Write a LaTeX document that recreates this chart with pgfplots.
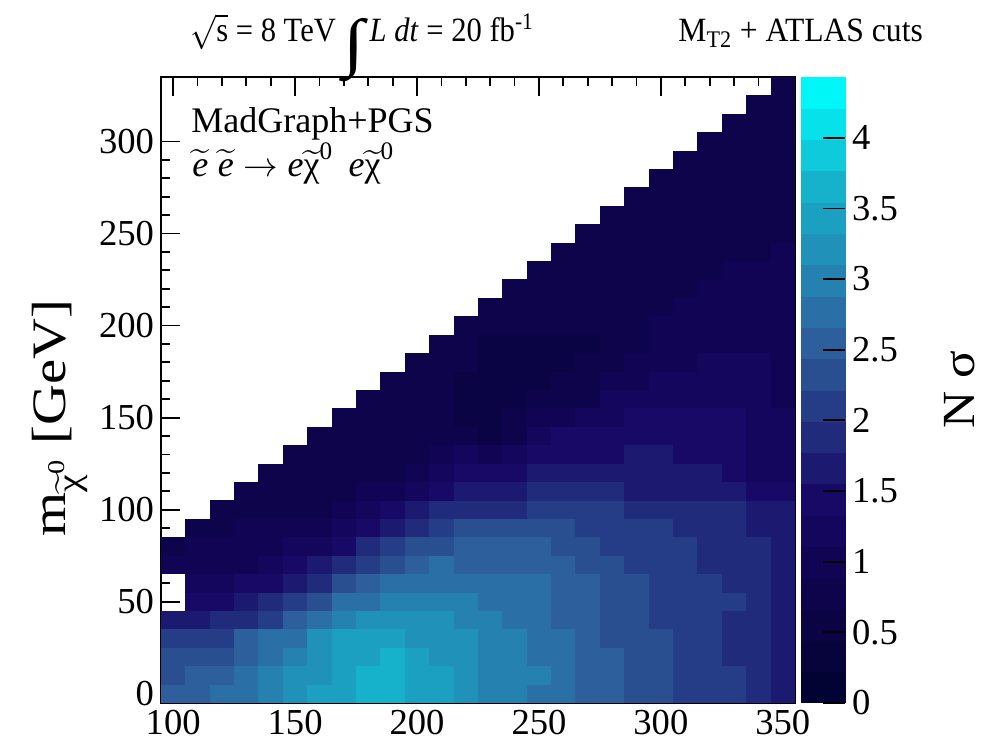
\documentclass[border=0pt]{standalone}
\usepackage{amsmath}
\usepackage{graphicx}
\usepackage{fontspec}
\setmainfont{Liberation Serif}
\usepackage{pgfplots}
\pgfplotsset{compat=1.18}
\pgfplotsset{colormap={deepsea}{rgb255=(3,3,51) rgb255=(7,3,59) rgb255=(10,4,68) rgb255=(13,4,76) rgb255=(17,4,84) rgb255=(20,5,93) rgb255=(24,9,102) rgb255=(28,25,112) rgb255=(32,43,123) rgb255=(37,61,134) rgb255=(41,79,145) rgb255=(45,95,156) rgb255=(42,112,166) rgb255=(37,129,175) rgb255=(32,145,185) rgb255=(27,160,194) rgb255=(22,178,204) rgb255=(14,202,219) rgb255=(7,226,234) rgb255=(0,247,247)}}
\pgfdeclareplotmark{cell}{\pgfpathrectangle{\pgfpoint{-6.125pt}{-4.625pt}}{\pgfpoint{12.25pt}{9.25pt}}\pgfusepathqfill}
\newcommand{\tchi}{\widetilde{\text{χ}}^{\text{0}}}
\begin{document}
\begin{tikzpicture}
\begin{axis}[
  at={(0,0)}, anchor=south west,
  scale only axis, width=317pt, height=313pt,
  xmin=95, xmax=355, ymin=-5, ymax=335,
  xtick={100,150,...,350}, ytick={0,50,...,300},
  minor x tick num=4, minor y tick num=4,
  tick pos=both, tick align=inside,
  major tick length=9.5pt, minor tick length=4.5pt,
  tick style={black, line width=0.9pt},
  axis line style={line width=1pt},
  axis on top,
  /pgf/number format/assume math mode=true,
  tick label style={font=\fontsize{18.3}{20}\selectfont},
  colormap name=deepsea,
  colormap access=piecewise constant,
  point meta min=0, point meta max=4.43,
  colorbar,
  colorbar style={
    at={(parent axis.south east)}, anchor=south west, xshift=-5.5pt,
    width=22pt,
    ytick={0,0.5,...,4},
    yticklabel pos=right, ytick pos=right, tick align=inside,
    major tick length=11pt,
    axis line style={draw=none},
    tick style={black, line width=0.9pt},
    /pgf/number format/assume math mode=true,
    tick label style={font=\fontsize{18.3}{20}\selectfont},
  },
]
\addplot[scatter, only marks, mark=cell, point meta=explicit,
  scatter/use mapped color={draw=none, fill=mapped color}] coordinates {
(100,0)[2.55] (100,10)[2.33] (100,20)[2.33] (100,30)[2.10] (100,40)[1.66] (100,70)[1.00] (100,80)[0.78]
(110,0)[2.55] (110,10)[2.55] (110,20)[2.33] (110,30)[2.10] (110,40)[1.66] (110,50)[1.44] (110,60)[1.22] (110,70)[1.00] (110,80)[1.00] (110,90)[0.78]
(120,0)[2.77] (120,10)[2.55] (120,20)[2.33] (120,30)[2.10] (120,40)[1.88] (120,50)[1.44] (120,60)[1.22] (120,70)[1.00] (120,80)[1.00] (120,90)[0.78] (120,100)[0.78]
(130,0)[2.77] (130,10)[2.77] (130,20)[2.55] (130,30)[2.55] (130,40)[1.88] (130,50)[1.66] (130,60)[1.44] (130,70)[1.00] (130,80)[1.00] (130,90)[1.00] (130,100)[0.78] (130,110)[0.78]
(140,0)[2.99] (140,10)[2.99] (140,20)[2.77] (140,30)[2.77] (140,40)[2.10] (140,50)[1.88] (140,60)[1.44] (140,70)[1.22] (140,80)[1.00] (140,90)[1.00] (140,100)[0.78] (140,110)[0.78] (140,120)[0.78]
(150,0)[3.21] (150,10)[3.21] (150,20)[2.99] (150,30)[2.77] (150,40)[2.55] (150,50)[2.10] (150,60)[1.66] (150,70)[1.44] (150,80)[1.22] (150,90)[1.00] (150,100)[0.78] (150,110)[0.78] (150,120)[0.78] (150,130)[0.78]
(160,0)[3.43] (160,10)[3.21] (160,20)[3.21] (160,30)[3.21] (160,40)[2.77] (160,50)[2.33] (160,60)[1.88] (160,70)[1.66] (160,80)[1.22] (160,90)[1.00] (160,100)[0.78] (160,110)[0.78] (160,120)[0.78] (160,130)[0.78] (160,140)[0.78]
(170,0)[3.43] (170,10)[3.43] (170,20)[3.43] (170,30)[3.43] (170,40)[2.99] (170,50)[2.77] (170,60)[2.33] (170,70)[1.88] (170,80)[1.44] (170,90)[1.22] (170,100)[1.00] (170,110)[0.78] (170,120)[0.78] (170,130)[0.78] (170,140)[0.78] (170,150)[0.78]
(180,0)[3.65] (180,10)[3.65] (180,20)[3.43] (180,30)[3.43] (180,40)[3.21] (180,50)[2.77] (180,60)[2.55] (180,70)[2.10] (180,80)[1.88] (180,90)[1.44] (180,100)[1.22] (180,110)[1.00] (180,120)[0.78] (180,130)[0.78] (180,140)[0.78] (180,150)[0.78] (180,160)[0.78]
(190,0)[3.65] (190,10)[3.65] (190,20)[3.65] (190,30)[3.43] (190,40)[3.21] (190,50)[2.99] (190,60)[2.77] (190,70)[2.33] (190,80)[2.10] (190,90)[1.66] (190,100)[1.44] (190,110)[1.00] (190,120)[0.78] (190,130)[0.78] (190,140)[0.78] (190,150)[0.78] (190,160)[0.78] (190,170)[0.78]
(200,0)[3.43] (200,10)[3.43] (200,20)[3.43] (200,30)[3.21] (200,40)[3.21] (200,50)[2.99] (200,60)[2.77] (200,70)[2.55] (200,80)[2.33] (200,90)[1.88] (200,100)[1.66] (200,110)[1.22] (200,120)[1.00] (200,130)[0.78] (200,140)[0.78] (200,150)[0.78] (200,160)[0.78] (200,170)[0.78] (200,180)[0.78]
(210,0)[3.43] (210,10)[3.43] (210,20)[3.21] (210,30)[3.21] (210,40)[3.21] (210,50)[2.99] (210,60)[2.77] (210,70)[2.77] (210,80)[2.33] (210,90)[2.10] (210,100)[1.88] (210,110)[1.44] (210,120)[1.22] (210,130)[1.00] (210,140)[0.78] (210,150)[0.78] (210,160)[0.78] (210,170)[0.78] (210,180)[0.78] (210,190)[0.78]
(220,0)[3.21] (220,10)[3.21] (220,20)[3.21] (220,30)[3.21] (220,40)[2.99] (220,50)[2.99] (220,60)[2.77] (220,70)[2.55] (220,80)[2.55] (220,90)[2.33] (220,100)[1.88] (220,110)[1.66] (220,120)[1.44] (220,130)[1.22] (220,140)[0.78] (220,150)[0.55] (220,160)[0.55] (220,170)[0.55] (220,180)[0.78] (220,190)[0.78] (220,200)[0.78]
(230,0)[2.99] (230,10)[2.99] (230,20)[2.99] (230,30)[2.99] (230,40)[2.99] (230,50)[2.77] (230,60)[2.77] (230,70)[2.55] (230,80)[2.55] (230,90)[2.33] (230,100)[1.88] (230,110)[1.66] (230,120)[1.44] (230,130)[1.00] (230,140)[0.55] (230,150)[0.55] (230,160)[0.55] (230,170)[0.55] (230,180)[0.55] (230,190)[0.55] (230,200)[0.78] (230,210)[0.78]
(240,0)[2.99] (240,10)[2.99] (240,20)[2.99] (240,30)[2.99] (240,40)[2.77] (240,50)[2.77] (240,60)[2.77] (240,70)[2.55] (240,80)[2.55] (240,90)[2.33] (240,100)[1.88] (240,110)[1.66] (240,120)[1.44] (240,130)[1.22] (240,140)[0.78] (240,150)[0.78] (240,160)[0.55] (240,170)[0.55] (240,180)[0.55] (240,190)[0.55] (240,200)[0.78] (240,210)[0.78] (240,220)[0.78]
(250,0)[2.77] (250,10)[2.99] (250,20)[2.77] (250,30)[2.77] (250,40)[2.77] (250,50)[2.77] (250,60)[2.77] (250,70)[2.55] (250,80)[2.55] (250,90)[2.33] (250,100)[2.10] (250,110)[1.88] (250,120)[1.66] (250,130)[1.44] (250,140)[1.22] (250,150)[1.00] (250,160)[0.78] (250,170)[0.55] (250,180)[0.55] (250,190)[0.55] (250,200)[0.78] (250,210)[0.78] (250,220)[0.78] (250,230)[0.78]
(260,0)[2.77] (260,10)[2.77] (260,20)[2.77] (260,30)[2.77] (260,40)[2.55] (260,50)[2.55] (260,60)[2.55] (260,70)[2.55] (260,80)[2.33] (260,90)[2.33] (260,100)[2.10] (260,110)[1.88] (260,120)[1.66] (260,130)[1.44] (260,140)[1.44] (260,150)[1.00] (260,160)[0.78] (260,170)[0.78] (260,180)[0.55] (260,190)[0.55] (260,200)[0.78] (260,210)[0.78] (260,220)[0.78] (260,230)[0.78] (260,240)[0.78]
(270,0)[2.55] (270,10)[2.55] (270,20)[2.55] (270,30)[2.55] (270,40)[2.55] (270,50)[2.55] (270,60)[2.55] (270,70)[2.33] (270,80)[2.33] (270,90)[2.10] (270,100)[2.10] (270,110)[1.88] (270,120)[1.66] (270,130)[1.44] (270,140)[1.44] (270,150)[1.22] (270,160)[0.78] (270,170)[0.78] (270,180)[0.78] (270,190)[0.55] (270,200)[0.78] (270,210)[0.78] (270,220)[0.78] (270,230)[0.78] (270,240)[0.78] (270,250)[0.78]
(280,0)[2.55] (280,10)[2.55] (280,20)[2.55] (280,30)[2.33] (280,40)[2.33] (280,50)[2.33] (280,60)[2.33] (280,70)[2.33] (280,80)[2.10] (280,90)[2.10] (280,100)[2.10] (280,110)[1.88] (280,120)[1.66] (280,130)[1.44] (280,140)[1.44] (280,150)[1.22] (280,160)[1.22] (280,170)[1.00] (280,180)[0.78] (280,190)[0.78] (280,200)[0.78] (280,210)[0.78] (280,220)[0.78] (280,230)[0.78] (280,240)[0.78] (280,250)[0.78] (280,260)[0.78]
(290,0)[2.33] (290,10)[2.33] (290,20)[2.33] (290,30)[2.33] (290,40)[2.33] (290,50)[2.33] (290,60)[2.33] (290,70)[2.10] (290,80)[2.10] (290,90)[2.10] (290,100)[1.88] (290,110)[1.66] (290,120)[1.66] (290,130)[1.66] (290,140)[1.44] (290,150)[1.44] (290,160)[1.22] (290,170)[1.00] (290,180)[1.00] (290,190)[0.78] (290,200)[0.78] (290,210)[0.78] (290,220)[0.78] (290,230)[0.78] (290,240)[0.78] (290,250)[0.78] (290,260)[0.78] (290,270)[0.78]
(300,0)[2.33] (300,10)[2.33] (300,20)[2.33] (300,30)[2.33] (300,40)[2.10] (300,50)[2.10] (300,60)[2.10] (300,70)[2.10] (300,80)[2.10] (300,90)[2.10] (300,100)[1.88] (300,110)[1.66] (300,120)[1.66] (300,130)[1.66] (300,140)[1.44] (300,150)[1.44] (300,160)[1.22] (300,170)[1.22] (300,180)[1.00] (300,190)[1.00] (300,200)[1.00] (300,210)[0.78] (300,220)[0.78] (300,230)[0.78] (300,240)[0.78] (300,250)[0.78] (300,260)[0.78] (300,270)[0.78] (300,280)[0.78]
(310,0)[2.10] (310,10)[2.10] (310,20)[2.10] (310,30)[2.10] (310,40)[2.10] (310,50)[2.10] (310,60)[2.10] (310,70)[2.10] (310,80)[2.10] (310,90)[1.88] (310,100)[1.88] (310,110)[1.66] (310,120)[1.66] (310,130)[1.44] (310,140)[1.44] (310,150)[1.44] (310,160)[1.22] (310,170)[1.22] (310,180)[1.00] (310,190)[1.00] (310,200)[1.00] (310,210)[1.00] (310,220)[0.78] (310,230)[0.78] (310,240)[0.78] (310,250)[0.78] (310,260)[0.78] (310,270)[0.78] (310,280)[0.78] (310,290)[0.78]
(320,0)[2.10] (320,10)[2.10] (320,20)[2.10] (320,30)[2.10] (320,40)[2.10] (320,50)[2.10] (320,60)[2.10] (320,70)[1.88] (320,80)[1.88] (320,90)[1.88] (320,100)[1.88] (320,110)[1.66] (320,120)[1.66] (320,130)[1.44] (320,140)[1.44] (320,150)[1.44] (320,160)[1.22] (320,170)[1.22] (320,180)[1.22] (320,190)[1.00] (320,200)[1.00] (320,210)[1.00] (320,220)[1.00] (320,230)[0.78] (320,240)[0.78] (320,250)[0.78] (320,260)[0.78] (320,270)[0.78] (320,280)[0.78] (320,290)[0.78] (320,300)[0.78]
(330,0)[2.10] (330,10)[2.10] (330,20)[1.88] (330,30)[1.88] (330,40)[1.88] (330,50)[2.10] (330,60)[1.88] (330,70)[1.88] (330,80)[1.88] (330,90)[1.88] (330,100)[1.88] (330,110)[1.66] (330,120)[1.44] (330,130)[1.44] (330,140)[1.44] (330,150)[1.44] (330,160)[1.22] (330,170)[1.22] (330,180)[1.22] (330,190)[1.00] (330,200)[1.00] (330,210)[1.00] (330,220)[1.00] (330,230)[1.00] (330,240)[0.78] (330,250)[0.78] (330,260)[0.78] (330,270)[0.78] (330,280)[0.78] (330,290)[0.78] (330,300)[0.78] (330,310)[0.78]
(340,0)[1.88] (340,10)[1.88] (340,20)[1.88] (340,30)[1.88] (340,40)[1.88] (340,50)[1.88] (340,60)[1.88] (340,70)[1.88] (340,80)[1.88] (340,90)[1.66] (340,100)[1.66] (340,110)[1.44] (340,120)[1.22] (340,130)[1.22] (340,140)[1.22] (340,150)[1.22] (340,160)[1.22] (340,170)[1.22] (340,180)[1.22] (340,190)[1.00] (340,200)[1.00] (340,210)[1.00] (340,220)[1.00] (340,230)[1.00] (340,240)[0.78] (340,250)[0.78] (340,260)[0.78] (340,270)[0.78] (340,280)[0.78] (340,290)[0.78] (340,300)[0.78] (340,310)[0.78] (340,320)[0.78]
(350,0)[1.66] (350,10)[1.66] (350,20)[1.66] (350,30)[1.66] (350,40)[1.66] (350,50)[1.66] (350,60)[1.66] (350,70)[1.66] (350,80)[1.66] (350,90)[1.66] (350,100)[1.66] (350,110)[1.44] (350,120)[1.22] (350,130)[1.22] (350,140)[1.22] (350,150)[1.22] (350,160)[1.00] (350,170)[1.00] (350,180)[1.00] (350,190)[1.00] (350,200)[1.00] (350,210)[1.00] (350,220)[1.00] (350,230)[1.00] (350,240)[1.00] (350,250)[0.78] (350,260)[0.78] (350,270)[0.78] (350,280)[0.78] (350,290)[0.78] (350,300)[0.78] (350,310)[0.78] (350,320)[0.78] (350,330)[0.78]
};
\end{axis}
\node[anchor=base west, inner sep=0pt, font=\fontsize{18}{20}\selectfont] at (15pt,285pt) {\smash[b]{MadGraph+PGS}};
\node[anchor=base west, inner sep=0pt, font=\fontsize{18}{20}\selectfont] at (15.5pt,263pt) {$\widetilde{\textit{e}}\;\widetilde{\textit{e}}\rightarrow\textit{e}\tchi\;\,\textit{e}\tchi$};
\node[anchor=base west, inner sep=0pt, font=\fontsize{17}{19}\selectfont] at (14.5pt,330.5pt) {\scalebox{0.9}[1]{$\sqrt{\text{s}}$ = 8 TeV \smash{\raisebox{-11.5pt}{\scalebox{2.5}[1.9]{∫}}}\,\textit{L dt} = 20 fb\textsuperscript{-1}}};
\node[anchor=base west, inner sep=0pt, font=\fontsize{17}{19}\selectfont] at (258.5pt,330.5pt) {\scalebox{0.93}[1]{M\textsubscript{T2} + ATLAS cuts}};
\node[rotate=90, inner sep=0pt, font=\fontsize{24}{28}\selectfont] at (-50.5pt,142.5pt) {\scalebox{1.18}[1]{m$_{\tchi}$ [GeV]}};
\node[rotate=90, inner sep=0pt, font=\fontsize{23}{27}\selectfont] at (399.5pt,156.5pt) {\scalebox{1.12}[1]{N σ}};
\path (-80.5pt,-20.5pt) rectangle (418pt,351.5pt);
\end{tikzpicture}
\end{document}
